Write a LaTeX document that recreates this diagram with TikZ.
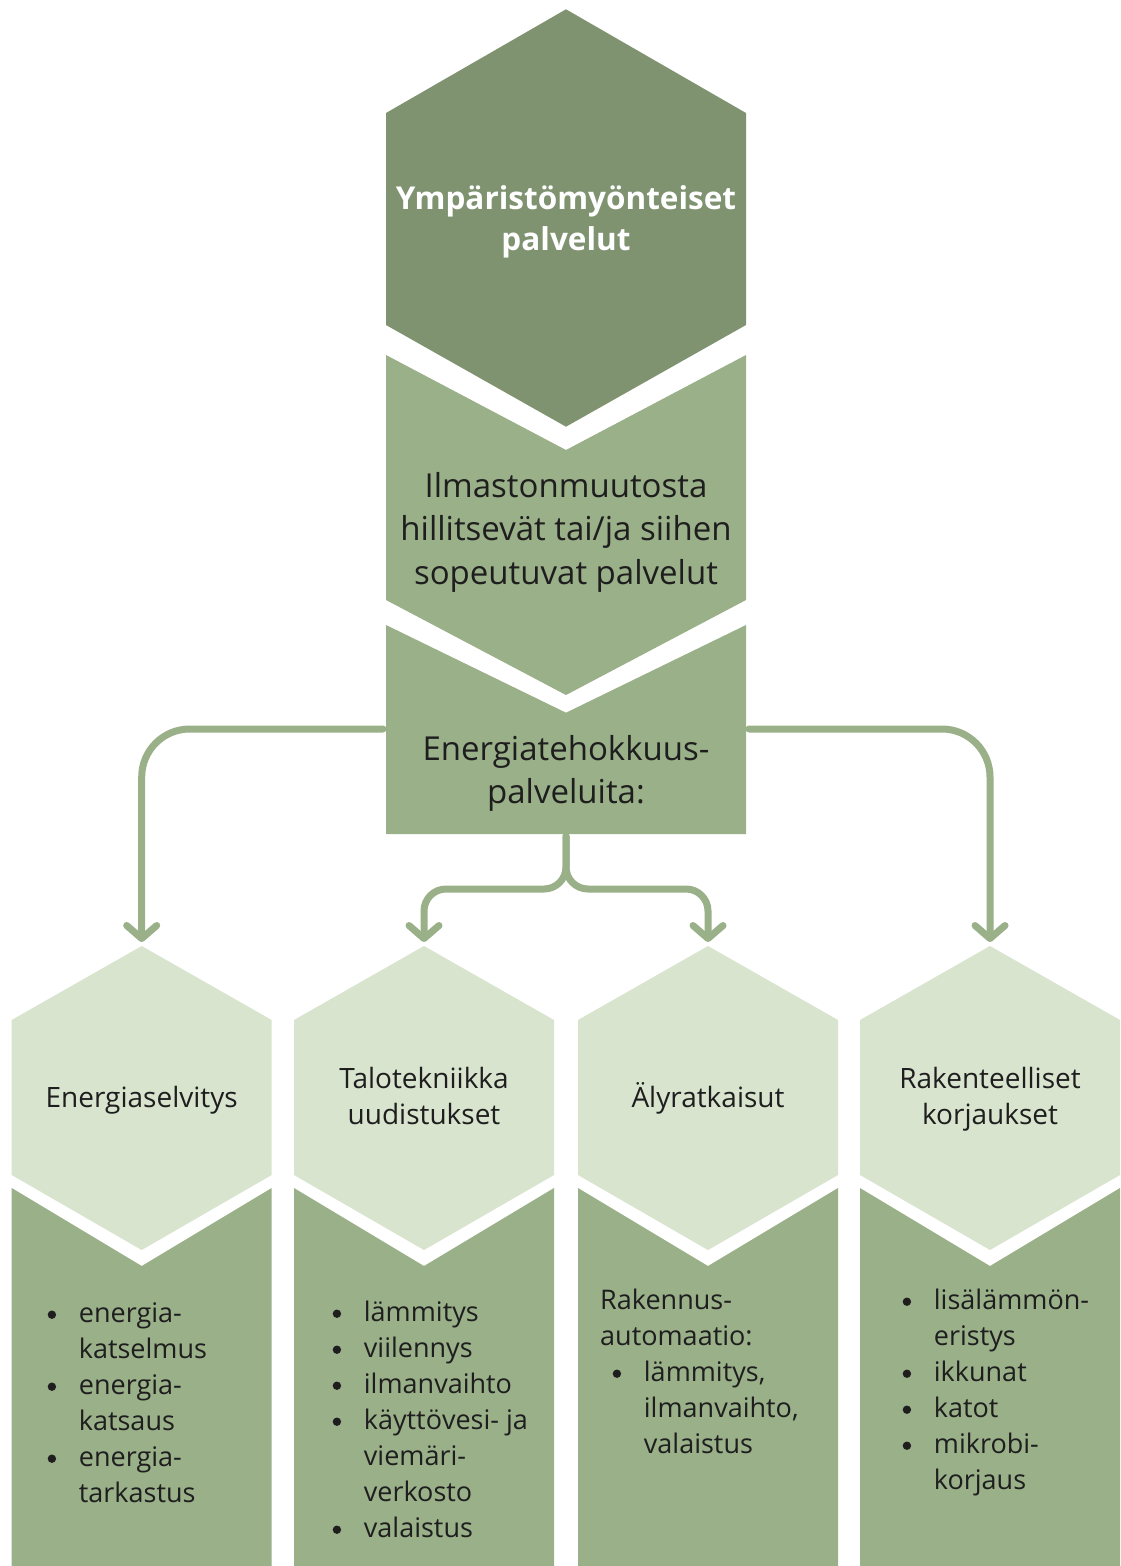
\documentclass[tikz,border=0pt]{standalone}
\usepackage{fontspec}
\setmainfont{Open Sans}
\usetikzlibrary{arrows.meta}
\definecolor{dk}{HTML}{7F9371}
\definecolor{md}{HTML}{9AB089}
\definecolor{lt}{HTML}{D9E4CF}
\definecolor{ink}{HTML}{1E1E1E}
\newlength\bw \setlength\bw{32pt}
\newcommand\bdot{\tikz[baseline=-7.5pt]\fill[ink] (0pt,0pt) circle (4.2pt);}
\newcommand\bitem{\makebox[\bw][l]{\makebox[10pt][c]{\bdot}}}
\newcommand\bind{\hspace*{\bw}}
\begin{document}
\begin{tikzpicture}[x=1pt,y=-1pt,
  conn/.style={draw=md, line width=7pt, line cap=round, -{Straight Barb[length=13pt,width=30pt,round]}},
  titletext/.style={inner sep=0pt, anchor=north, align=center, text=white, font=\fontsize{31.5}{41}\selectfont\bfseries},
  midtext/.style={inner sep=0pt, anchor=north, align=center, text=ink, font=\fontsize{33}{43.5}\selectfont},
  headtext/.style={inner sep=0pt, anchor=north, align=center, text=ink, font=\fontsize{28}{36}\selectfont},
  listtext/.style={inner sep=0pt, anchor=north west, align=left, text=ink, font=\fontsize{27}{36}\selectfont}]
\useasboundingbox (0,0) rectangle (1120,1566);
\fill[white] (0,0) rectangle (1120,1566);
% central stack
\fill[dk] (566,9.3) -- (746,113) -- (746,325) -- (566,426.7) -- (386,325) -- (386,113) -- cycle;
\fill[md] (386,355) -- (566,450) -- (746,355) -- (746,600) -- (566,695) -- (386,600) -- cycle;
\fill[md] (386,625) -- (566,712.7) -- (746,625) -- (746,834) -- (386,834) -- cycle;
% lower columns
\foreach \c in {141.7,424,708,990}{
  \fill[lt] (\c,946) -- (\c+130,1020) -- (\c+130,1175) -- (\c,1250) -- (\c-130,1175) -- (\c-130,1020) -- cycle;
  \fill[md] (\c-130,1188) -- (\c,1266) -- (\c+130,1188) -- (\c+130,1566) -- (\c-130,1566) -- cycle;
}
% texts
\node[titletext] (top) at (566,180.3) {\strut Ympäristömyönteiset\\palvelut};
\node[midtext] (ilm) at (566,466.5) {\strut Ilmastonmuutosta\\hillitsevät tai/ja siihen\\sopeutuvat palvelut};
\node[midtext] (ene) at (566,729.5) {\strut Energiatehokkuus-\\palveluita:};
\node[headtext] (h1) at (141.7,1082) {\strut Energiaselvitys};
\node[headtext] (h2) at (424,1063) {\strut Talotekniikka\\uudistukset};
\node[headtext] (h3) at (708,1082) {\strut Älyratkaisut};
\node[headtext] (h4) at (990,1063) {\strut Rakenteelliset\\korjaukset};
\node[listtext] (l1) at (46.7,1296.8) {\strut\bitem energia-\\\bind katselmus\\\bitem energia-\\\bind katsaus\\\bitem energia-\\\bind tarkastus};
\node[listtext] (l2) at (331.7,1295.8) {\strut\bitem lämmitys\\\bitem viilennys\\\bitem ilmanvaihto\\\bitem käyttövesi- ja\\\bind viemäri-\\\bind verkosto\\\bitem valaistus};
\node[listtext] (l3) at (600,1283.8) {\strut Rakennus-\\automaatio:\\\hspace*{11.7pt}\bitem lämmitys,\\\hspace*{43.7pt}ilmanvaihto,\\\hspace*{43.7pt}valaistus};
\node[listtext] (l4) at (901.7,1283.8) {\strut\bitem lisälämmön-\\\bind eristys\\\bitem ikkunat\\\bitem katot\\\bitem mikrobi-\\\bind korjaus};
% connectors
\coordinate (eW) at (383,729);
\coordinate (eE) at (749,729);
\coordinate (eS) at (566,836);
\coordinate (t1) at (141.7,942);
\coordinate (t2) at (424,942);
\coordinate (t3) at (708,942);
\coordinate (t4) at (990,942);
\draw[conn, rounded corners=48pt] (eW) -| (t1);
\draw[conn, rounded corners=48pt] (eE) -| (t4);
\draw[conn, rounded corners=22pt] (eS) -- ++(0,53) -| (t2);
\draw[conn, rounded corners=22pt] (eS) -- ++(0,53) -| (t3);
\end{tikzpicture}
\end{document}
